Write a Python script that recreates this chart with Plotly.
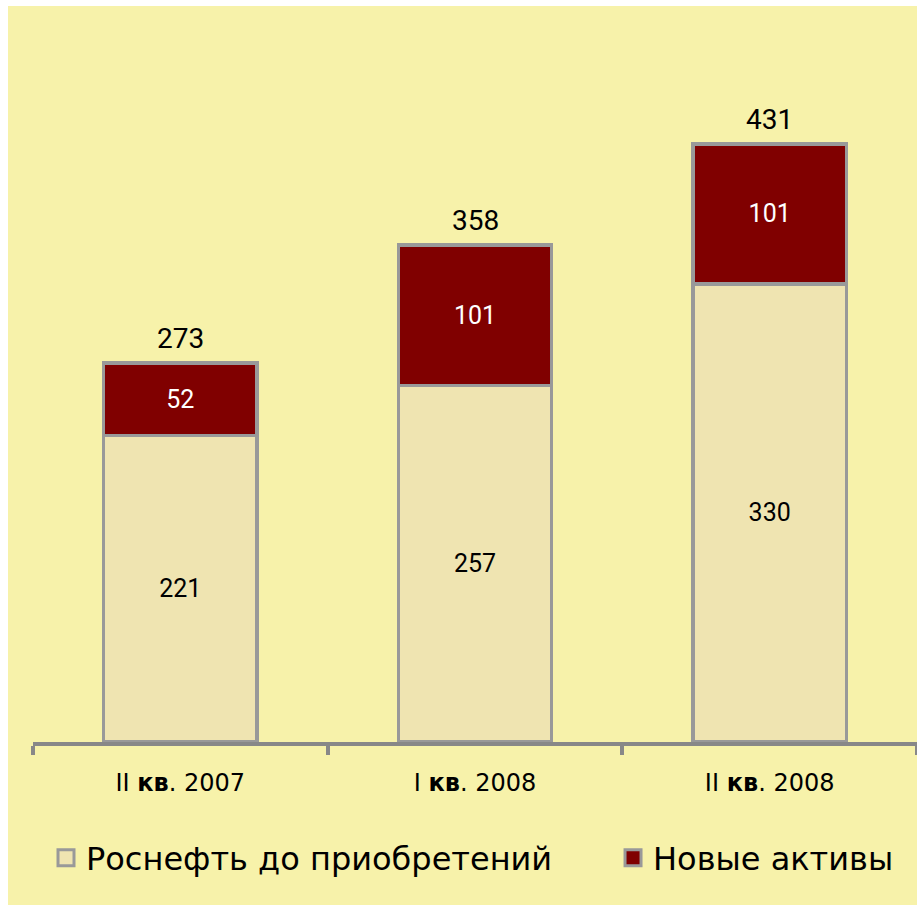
import plotly.graph_objects as go

categories = ["II кв. 2007", "I кв. 2008", "II кв. 2008"]
tick_labels = ["II <b>кв</b>. 2007", "I <b>кв</b>. 2008", "II <b>кв</b>. 2008"]
base_values = [221, 257, 330]
new_values = [52, 101, 101]
totals = [273, 358, 431]
series_names = ["Роснефть до приобретений", "Новые активы"]

BG = "#F7F2AA"
BEIGE = "#EFE4B1"
RED = "#800000"
OUTLINE = "#999999"

fig = go.Figure()
fig.add_trace(go.Bar(
    x=categories, y=base_values, name=series_names[0],
    marker=dict(color=BEIGE, line=dict(color=OUTLINE, width=3.5)),
    text=base_values, textposition="inside", insidetextanchor="middle",
    textangle=0, textfont=dict(family="Roboto", size=25, color="black"),
    width=0.52, showlegend=False,
))
fig.add_trace(go.Bar(
    x=categories, y=new_values, name=series_names[1],
    marker=dict(color=RED, line=dict(color=OUTLINE, width=3.5)),
    text=new_values, textposition="inside", insidetextanchor="middle",
    textangle=0, textfont=dict(family="Roboto", size=25, color="white"),
    width=0.52, showlegend=False,
))
# legend proxies (one legend each so they can sit apart like the original)
for name, col, lg in zip(series_names, [BEIGE, RED], ["legend", "legend2"]):
    fig.add_trace(go.Scatter(
        x=[None], y=[None], mode="markers", name=name, legend=lg,
        marker=dict(symbol="square", size=16, color=col,
                    line=dict(color=OUTLINE, width=3)),
    ))

for cat, tot in zip(categories, totals):
    fig.add_annotation(
        x=cat, y=tot, text=str(tot), showarrow=False,
        yanchor="bottom", yshift=6,
        font=dict(family="Roboto", size=28, color="black"),
    )

legend_common = dict(
    orientation="h", xref="container", yref="container",
    y=0.0523, xanchor="left", yanchor="middle",
    font=dict(family="DejaVu Sans", size=32, color="black"),
    bgcolor="rgba(0,0,0,0)",
)

fig.update_layout(
    width=909, height=899,
    margin=dict(l=25, r=0, t=42, b=163),
    paper_bgcolor=BG, plot_bgcolor=BG,
    barmode="stack",
    uniformtext=dict(minsize=10, mode="show"),
    legend=dict(x=0.0418, **legend_common),
    legend2=dict(x=0.6656, **legend_common),
    xaxis=dict(
        tickmode="array", tickvals=categories, ticktext=tick_labels,
        tickson="boundaries", ticks="outside", ticklen=9, tickwidth=3.5,
        tickcolor="#888888", showline=True, linecolor="#888888", linewidth=3.5,
        showgrid=False, ticklabelstandoff=16,
        tickfont=dict(family="DejaVu Sans", size=24, color="black"),
        range=[-0.5, 2.5],
    ),
    yaxis=dict(visible=False, range=[0, 500]),
)

fig.write_html(
    "out.html",
    post_script="document.body.style.margin='6px 0 0 8px';document.body.style.overflow='hidden';",
)
